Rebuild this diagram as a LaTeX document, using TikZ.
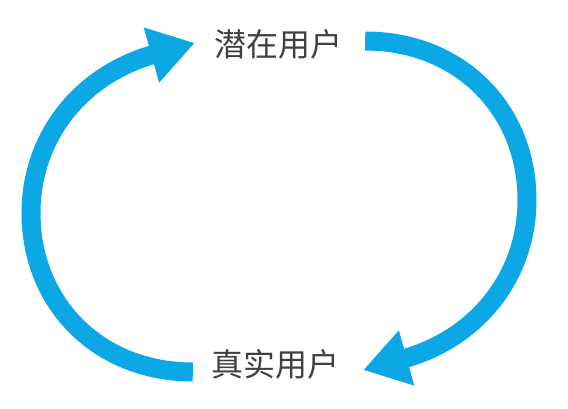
\documentclass[tikz,border=0pt]{standalone}
\usepackage{fontspec}
\usepackage{xcolor}
\usetikzlibrary{arrows.meta}
\newfontfamily\cjk{Noto Sans CJK SC}
\definecolor{loopblue}{RGB}{12,167,229}
\tikzset{
  stage/.style={ % text of one user stage
    font=\cjk\fontsize{32}{38}\selectfont, text=black!75,
    inner sep=0pt
  },
  loopline/.style={ % one thick half of the cycle
    draw=loopblue, line width=19pt,
    -{Triangle[length=45pt,width=54pt]}
  }
}

\begin{document}
\begin{tikzpicture}[x=1pt, y=-1pt]
    \useasboundingbox (0,0) rectangle (568,408);

    \node (top)[stage] at (278,44) {潜在用户};
    \node (bottom)[stage] at (275,364) {真实用户};
    \coordinate (right) at (527,200);
    \coordinate (left) at (31,213);

    \draw[loopline] ([xshift=23pt,yshift=3pt]top.east)
      .. controls +(95,0) and +(0,-90) .. (right)
      .. controls +(0,75) and +(115,-32) .. ([xshift=24pt,yshift=-6pt]bottom.east);
    \draw[loopline] ([xshift=-18pt,yshift=-8pt]bottom.west)
      .. controls +(-95,0) and +(0,90) .. (left)
      .. controls +(0,-75) and +(-115,32) .. ([xshift=-19pt,yshift=1pt]top.west);
\end{tikzpicture}
\end{document}
